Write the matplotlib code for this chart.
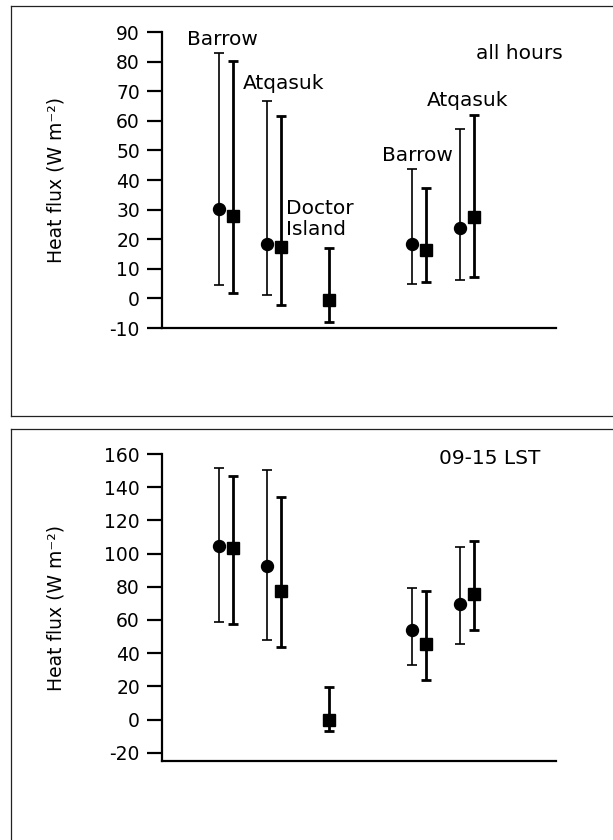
import numpy as np
import matplotlib
matplotlib.use('Agg')
import matplotlib.pyplot as plt
from matplotlib.lines import Line2D

# site groups along the x axis (Barrow, Atqasuk, Doctor Island, Barrow, Atqasuk)
groups = [1, 2, 3, 5, 6]

# all hours: circles (no Doctor Island value) and squares
all_circ = [30.1, 18.4, np.nan, 18.3, 23.7]
all_circ_lo = [4.4, 1.3, np.nan, 5.0, 6.3]
all_circ_hi = [83.0, 66.6, np.nan, 43.7, 57.4]
all_sq = [28.0, 17.4, -0.4, 16.4, 27.5]
all_sq_lo = [1.8, -2.2, -8.0, 5.4, 7.1]
all_sq_hi = [80.2, 61.6, 17.2, 37.2, 62.0]

# 09-15 LST
day_circ = [104.7, 92.6, np.nan, 53.8, 69.9]
day_circ_lo = [59.0, 48.0, np.nan, 32.6, 45.5]
day_circ_hi = [151.5, 150.3, np.nan, 79.5, 103.7]
day_sq = [103.5, 77.7, -0.2, 45.7, 75.7]
day_sq_lo = [57.8, 43.7, -7.2, 23.8, 53.8]
day_sq_hi = [146.5, 134.4, 19.8, 77.5, 107.5]

plt.rcParams['font.family'] = 'DejaVu Sans'
plt.rcParams['axes.unicode_minus'] = False

fig = plt.figure(figsize=(6.13, 8.40), dpi=100)
ax1 = fig.add_axes([0.2645, 0.6095, 0.6425, 0.3524])
ax2 = fig.add_axes([0.2645, 0.094, 0.6425, 0.3655])

# panel frames
W, H = 613, 840
def frame(x0, y0, x1, y1):
    for xs, ys in [((x0, x1), (y0, y0)), ((x0, x1), (y1, y1)),
                   ((x0, x0), (y0, y1)), ((x1, x1), (y0, y1))]:
        fig.add_artist(Line2D([x / W for x in xs], [1 - y / H for y in ys],
                              color='#222222', lw=0.9))
frame(11, 6, 640, 416)
frame(11, 429, 640, 860)


def draw(ax, circ, clo, chi, sq, slo, shi):
    g = np.array(groups, dtype=float)
    circ, clo, chi = map(np.array, (circ, clo, chi))
    sq, slo, shi = map(np.array, (sq, slo, shi))
    m = ~np.isnan(circ)
    ax.errorbar(g[m] + 0.18, circ[m], yerr=[circ[m] - clo[m], chi[m] - circ[m]],
                fmt='o', color='black', ms=8.6, elinewidth=1.2, capsize=3.8,
                capthick=1.2, zorder=3)
    ax.errorbar(g + 0.47, sq, yerr=[sq - slo, shi - sq],
                fmt='s', color='black', ms=8.0, elinewidth=2.0, capsize=3.8,
                capthick=2.0, zorder=3)
    ax.set_xlim(0, 8.17)
    ax.set_xticks([])
    for s in ['top', 'right']:
        ax.spines[s].set_visible(False)
    for s in ['left', 'bottom']:
        ax.spines[s].set_linewidth(1.6)
    ax.tick_params(axis='y', length=11, width=1.6, pad=5, labelsize=13.5)
    ax.set_ylabel('Heat flux (W m\u207b\u00b2)', fontsize=13.5)
    ax.yaxis.set_label_coords(-0.245, 0.5)


draw(ax1, all_circ, all_circ_lo, all_circ_hi, all_sq, all_sq_lo, all_sq_hi)
ax1.set_ylim(-10, 90)
ax1.set_yticks(np.arange(-10, 91, 10))

draw(ax2, day_circ, day_circ_lo, day_circ_hi, day_sq, day_sq_lo, day_sq_hi)
ax2.set_ylim(-25, 160)
ax2.set_yticks(np.arange(-20, 161, 20))
ax2.spines['left'].set_bounds(-25, 160)

fs = 14.5
ax1.text(0.51, 85.5, 'Barrow', fontsize=fs)
ax1.text(1.68, 70.9, 'Atqasuk', fontsize=fs)
ax1.text(2.57, 21.5, 'Doctor\nIsland', fontsize=fs, linespacing=1.15)
ax1.text(4.56, 46.5, 'Barrow', fontsize=fs)
ax1.text(5.49, 65.0, 'Atqasuk', fontsize=fs)
ax1.text(6.51, 81.0, 'all hours', fontsize=fs)
ax2.text(5.74, 154.0, '09-15 LST', fontsize=fs)

fig.savefig('out.png', dpi=100)
